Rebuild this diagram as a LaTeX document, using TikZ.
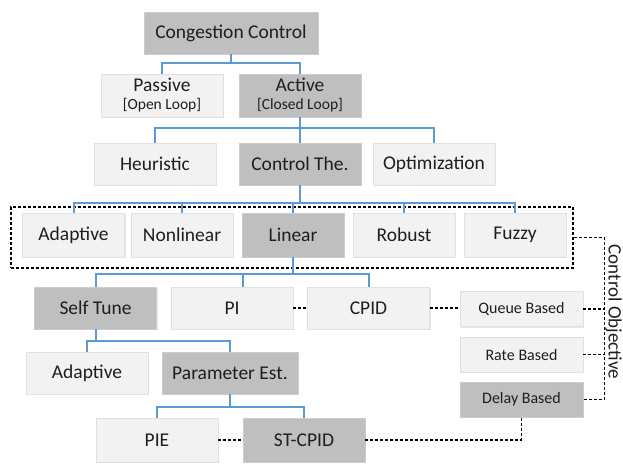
\documentclass[tikz,border=0pt]{standalone}
\usepackage{fontspec}
\setmainfont{Carlito}
\usetikzlibrary{shadows}
\definecolor{lightbox}{HTML}{F2F2F2}
\definecolor{darkbox}{HTML}{BFBFBF}
\definecolor{conn}{HTML}{5B9BD5}
\definecolor{txt}{HTML}{1E1E1E}
\begin{document}
\begin{tikzpicture}[x=1pt,y=-1pt,
  base/.style={rectangle,inner sep=0pt,text=txt,font=\fontsize{19.5}{21}\selectfont,
    minimum width=122pt,minimum height=43pt,
    drop shadow={opacity=0.18,shadow xshift=1.2pt,shadow yshift=-1.2pt}},
  lbox/.style={base,fill=lightbox,draw=black!12,line width=0.6pt},
  dbox/.style={base,fill=darkbox,draw=black!20,line width=0.6pt},
  sbox/.style={font=\fontsize{16}{18}\selectfont,minimum width=123pt,minimum height=35pt},
  tree/.style={draw=conn,line width=2pt},
  dline/.style={draw=black,line width=1.8pt,dash pattern=on 3pt off 2pt}]
\useasboundingbox (0,0) rectangle (623,463);
% level 0
\node[dbox,minimum width=174pt,minimum height=42pt] (cc) at (231,33) {Congestion Control};
% level 1
\node[lbox,align=center] (passive) at (162,95.5) {Passive\\[-3pt]{\fontsize{15.5}{17}\selectfont[Open Loop]}};
\node[dbox,align=center] (active) at (300,95.5) {Active\\[-3pt]{\fontsize{15.5}{17}\selectfont[Closed Loop]}};
% level 2
\node[lbox,minimum height=42pt] (heur) at (155,164) {Heuristic};
\node[dbox,minimum height=42pt] (ctrl) at (300,164) {Control The.};
\node[lbox,minimum height=42pt] (opt) at (434,164) {Optimization};
% level 3
\node[dline,minimum width=562pt,minimum height=61pt,inner sep=0pt] (grp) at (292,237.5) {};
\node[lbox,minimum width=102pt,minimum height=44pt] (adapt) at (73.5,235) {Adaptive};
\node[lbox,minimum width=102pt,minimum height=44pt] (nonlin) at (182,235) {Nonlinear};
\node[dbox,minimum width=102pt,minimum height=44pt] (linear) at (293,235) {Linear};
\node[lbox,minimum width=102pt,minimum height=44pt] (robust) at (404,235) {Robust};
\node[lbox,minimum width=102pt,minimum height=44pt] (fuzzy) at (515,235) {Fuzzy};
% level 4
\node[dbox,minimum height=42pt] (self) at (95.5,308) {Self Tune};
\node[lbox,minimum height=42pt] (pi) at (232,308) {PI};
\node[lbox,minimum height=42pt] (cpid) at (368.5,308) {CPID};
% objectives
\node[lbox,sbox] (queue) at (521.5,309) {Queue Based};
\node[lbox,sbox] (rate) at (521.5,354.5) {Rate Based};
\node[dbox,sbox] (delay) at (521.5,399.5) {Delay Based};
% level 5
\node[lbox,minimum height=42pt] (adapt2) at (87,373) {Adaptive};
\node[dbox,minimum width=136pt,minimum height=42pt] (param) at (230,373) {Parameter Est.};
% level 6
\node[lbox,minimum height=44pt] (pie) at (157,440) {PIE};
\node[dbox,minimum height=44pt] (stcpid) at (304,440) {ST-CPID};
% side label
\node[rotate=-90,anchor=base,text=txt,font=\fontsize{19}{21}\selectfont,inner sep=0pt] (objlbl) at (608.5,312) {Control Objective};
\coordinate (bus) at (604.5,0);
\coordinate (pitop) at ([xshift=11pt]pi.north);
% tree connectors
\draw[tree] (cc.south) -- ++(0,9) -| (passive.north);
\draw[tree] (cc.south) -- ++(0,9) -| (active.north);
\draw[tree] (active.south) -- ++(0,11) -| (heur.north);
\draw[tree] (active.south) -- (ctrl.north);
\draw[tree] (active.south) -- ++(0,11) -| (opt.north);
\foreach \n in {adapt,nonlin,linear,robust,fuzzy}
  \draw[tree] (ctrl.south) -- ++(0,18) -| (\n.north);
\foreach \n in {self.north,pitop,cpid.north}
  \draw[tree] (linear.south) -- ++(0,17) -| (\n);
\foreach \n in {adapt2,param}
  \draw[tree] (self.south) -- ++(0,12) -| (\n.north);
\foreach \n in {pie,stcpid}
  \draw[tree] (param.south) -- ++(0,13) -| (\n.north);
% dashed connectors
\draw[dline] (pi.east) -- (cpid.west);
\draw[dline] (cpid.east) -- (cpid.east -| queue.west);
\draw[dline] (pie.east) -- (stcpid.west);
\draw[dline] (stcpid.east) -| (delay.south);
\draw[dline] (grp.east) -- (grp.east -| bus) -- (delay.east -| bus) -- (delay.east);
\draw[dline] (queue.east) -- (queue.east -| bus);
\draw[dline] (rate.east) -- (rate.east -| bus);
\end{tikzpicture}
\end{document}
